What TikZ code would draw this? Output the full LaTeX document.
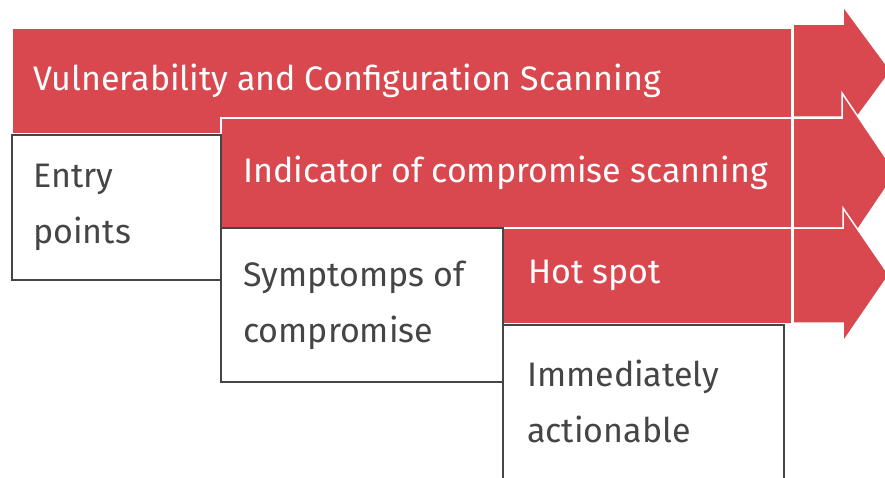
\documentclass[tikz,border=0pt]{standalone}
\usepackage{fontspec}
\setmainfont{Fira Sans}
\usetikzlibrary{positioning}

\definecolor{barred}{HTML}{D9484F}
\definecolor{boxgray}{HTML}{454545}

\tikzset{
    redbar/.style={fill=barred, draw=white, line width=1.5pt, anchor=north west, inner sep=0pt},
    redarrow/.style={fill=barred, draw=white, line width=1.5pt},
    whitebox/.style={fill=white, draw=boxgray, line width=1.8pt, anchor=north west, inner sep=0pt},
    bartext/.style={text=white, inner sep=0pt},
    boxtext/.style={text=boxgray, align=left, inner sep=0pt}
}

\begin{document}
\begin{tikzpicture}[x=1pt, y=-1pt, font=\fontsize{34}{56}\selectfont]
    \clip (0,0) rectangle (885,477);

    % first layer
    \draw[redarrow] (793,24) -- (843,24) -- (843,6) -- (891,71) -- (843,136) -- (843,117) -- (793,117) -- cycle;
    \node[redbar, minimum width=780pt, minimum height=106pt] (scan) at (11,27) {};
    \node[bartext, right=22pt of scan.west] (scanlabel) {Vulnerability and Configuration Scanning};

    % second layer
    \draw[redarrow] (793,118) -- (842,118) -- (842,93) -- (896,173) -- (842,253) -- (842,228) -- (793,228) -- cycle;
    \node[redbar, minimum width=571pt, minimum height=110pt] (ioc) at (220,117) {};
    \node[bartext, right=23pt of ioc.west] (ioclabel) {Indicator of compromise scanning};

    % third layer
    \draw[redarrow] (793,228) -- (843,228) -- (843,208) -- (889,275) -- (843,342) -- (843,323) -- (793,323) -- cycle;
    \node[redbar, minimum width=289pt, minimum height=96pt] (hot) at (502,227) {};
    \node[bartext, right=26pt of hot.west] (hotlabel) {Hot spot};

    % outcome boxes
    \node[whitebox, minimum width=209pt, minimum height=145pt] (entry) at (11,134) {};
    \node[boxtext, right=22pt of entry.west] (entrylabel) {Entry\\points};

    \node[whitebox, minimum width=282pt, minimum height=154pt] (symptom) at (220,227) {};
    \node[boxtext, right=23pt of symptom.west] (symptomlabel) {Symptomps of\\compromise};

    \node[whitebox, minimum width=281pt, minimum height=154pt] (action) at (502,324) {};
    \node[boxtext, right=25pt of action.west] (actionlabel) {Immediately\\actionable};
\end{tikzpicture}
\end{document}
